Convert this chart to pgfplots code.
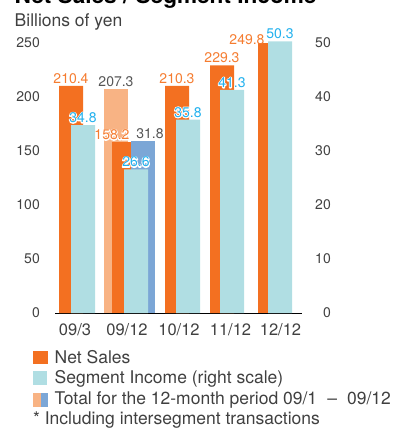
\documentclass[border=0pt]{standalone}
\usepackage{pgfplots}
\pgfplotsset{compat=1.18}
\usepackage{fontspec}
\setmainfont{TeX Gyre Heros}
\definecolor{cOrange}{HTML}{F37021}
\definecolor{cLOrange}{HTML}{F8B384}
\definecolor{cLBlue}{HTML}{B0DEE3}
\definecolor{cBlue}{HTML}{7BA6D6}
\definecolor{tOrange}{HTML}{F57C30}
\definecolor{tBlue}{HTML}{22B1EE}
\definecolor{tGray}{HTML}{555555}
\definecolor{tickc}{HTML}{404040}
\newcommand\halo[1]{\leavevmode\rlap{\special{pdf:literal direct 1 Tr 2 w 1 J 1 j}\textcolor{white}{#1}\special{pdf:literal direct 0 Tr}}#1}
\pgfplotsset{
  base/.style={
    scale only axis, width=247pt, height=270pt,
    xmin=55, xmax=302, ymin=0,
    clip=false,
    anchor=south west, at={(55pt,-313pt)},
    major tick length=0pt,
    /pgf/number format/assume math mode=true,
    axis line style={-},
    y axis line style={draw=none},
    yticklabel style={font=\fontsize{14}{16}\selectfont, text=tickc, anchor=east, inner sep=0pt},
  },
  lbl/.style={
    nodes near coords={\pgfmathprintnumber[fixed,fixed zerofill,precision=1]{\pgfplotspointmeta}},
    every node near coord/.append style={font=\fontsize{14}{16}\selectfont, text=#1, anchor=south, inner sep=0pt, yshift=2pt},
  },
  hlbl/.style={
    nodes near coords={\halo{\pgfmathprintnumber[fixed,fixed zerofill,precision=1]{\pgfplotspointmeta}}},
    every node near coord/.append style={font=\fontsize{14}{16}\selectfont, text=#1, anchor=south, inner sep=0pt, yshift=2pt},
  },
  bar/.style={ybar, bar width=24, bar shift=0pt, fill=#1, draw=none},
}
\begin{document}
\begin{tikzpicture}
\begin{axis}[base, ymax=250,
  axis x line*=bottom, axis y line*=left,
  x axis line style={line width=0.8pt, black, -},
  ytick={0,50,...,250}, yticklabel style={xshift=-15pt},
  xtick={75,127,179,230.5,280.5},
  xticklabels={09/3,09/12,10/12,11/12,12/12},
  xticklabel style={font=\fontsize{16.5}{18}\selectfont, text=tickc, anchor=base, inner sep=0pt, yshift=-22pt},
]
\addplot[bar=cLOrange, lbl=tGray] coordinates {(116,207.3)};
\addplot[bar=cOrange, lbl=tOrange] coordinates {(71,210.4) (177,210.3) (222,229.3)};
\addplot[bar=cOrange, hlbl=tOrange, every node near coord/.append style={xshift=-12pt}] coordinates {(124,158.2)};
\addplot[bar=cOrange, lbl=tOrange, every node near coord/.append style={xshift=-23pt, yshift=-4pt}] coordinates {(270,249.8)};
\end{axis}
\begin{axis}[base, ymax=50,
  axis x line=none, axis y line*=right,
  ytick={0,10,...,50}, yticklabel style={xshift=29pt},
]
\addplot[bar=cBlue, lbl=tGray, every node near coord/.append style={xshift=7pt}] coordinates {(143,31.8)};
\addplot[bar=cLBlue, hlbl=tBlue] coordinates {(83,34.8) (136,26.6) (188,35.8) (232,41.3) (280,50.3)};
\end{axis}
\node[anchor=base west, font=\bfseries\fontsize{22.6}{24}\selectfont, inner sep=0pt] at (14.5pt,-3.5pt) {Net Sales / Segment Income};
\node[anchor=base west, font=\fontsize{17.5}{20}\selectfont, text=tickc, inner sep=0pt] at (14.5pt,-26pt) {Billions of yen};
\fill[cOrange] (33.3pt,-350.7pt) rectangle (47.7pt,-364.3pt);
\fill[cLBlue] (33pt,-371pt) rectangle (47.4pt,-385.3pt);
\fill[cLOrange] (33.3pt,-392.7pt) rectangle (40.5pt,-406.7pt);
\fill[cBlue] (40.5pt,-392.7pt) rectangle (47.7pt,-406.7pt);
\begin{scope}[every node/.style={anchor=base west, font=\fontsize{17.5}{20}\selectfont, text=tickc, inner sep=0pt}]
\node at (54.5pt,-363.5pt) {Net Sales};
\node at (54.5pt,-383.5pt) {Segment Income (right scale)};
\node at (54.5pt,-404pt) {Total for the 12-month period 09/1\hspace{0.3em} –\hspace{0.3em} 09/12};
\node at (33pt,-424.3pt) {* Including intersegment transactions};
\end{scope}
\pgfresetboundingbox
\useasboundingbox (0,0) rectangle (414pt,-431pt);
\end{tikzpicture}
\end{document}
